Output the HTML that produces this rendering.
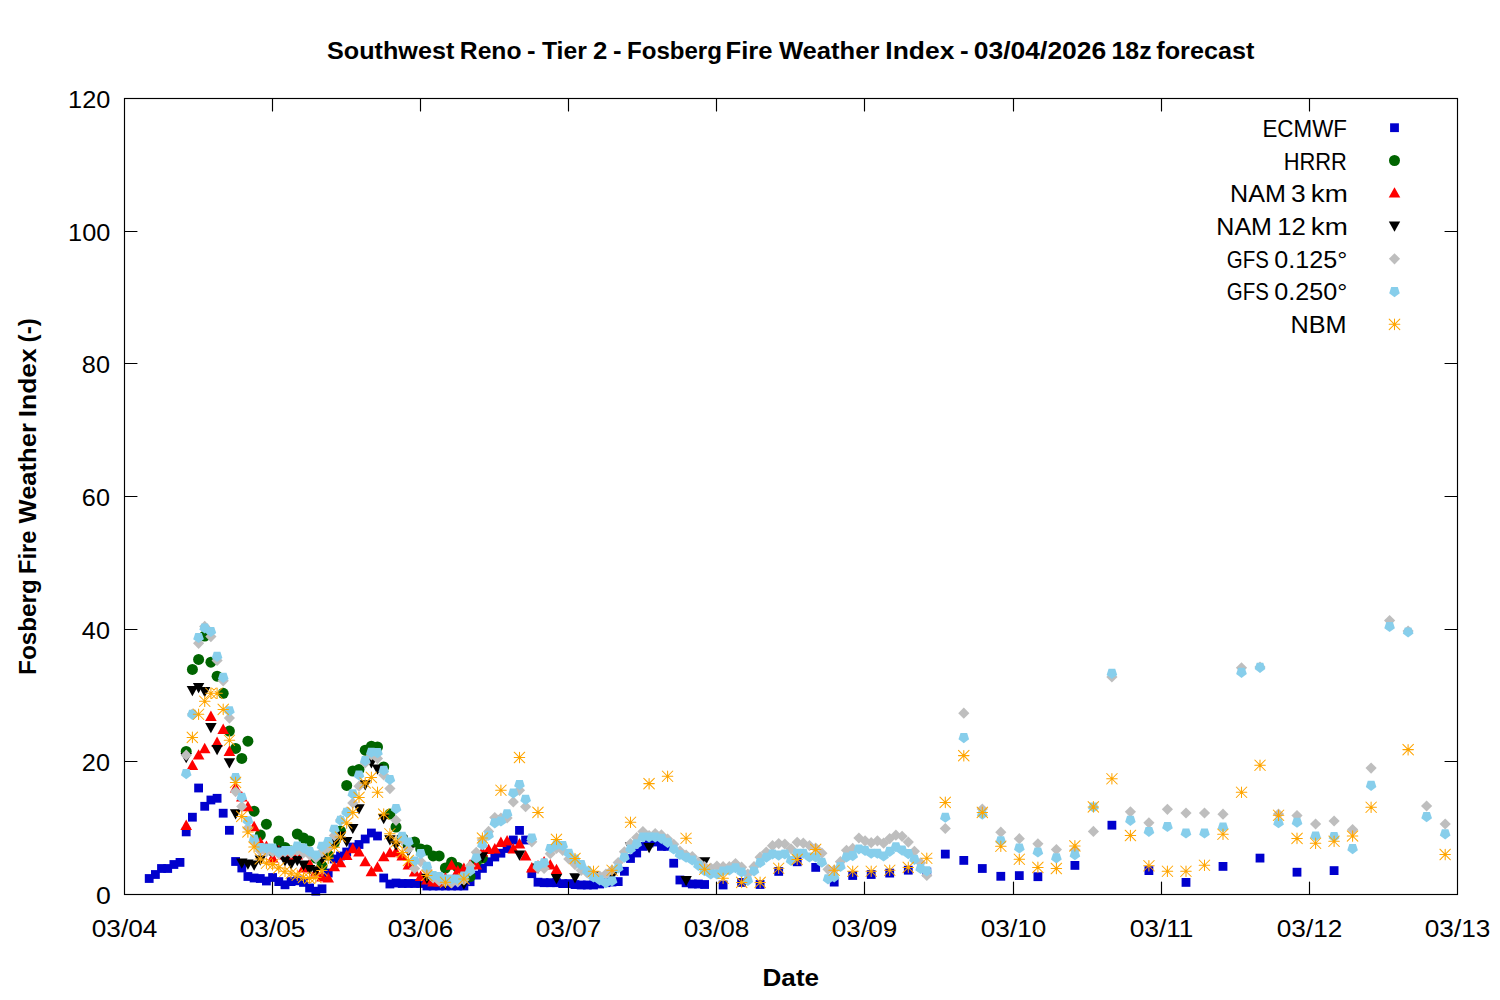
<!DOCTYPE html><html><head><meta charset="utf-8"><style>html,body{margin:0;padding:0;background:#fff;}svg{display:block;}</style></head><body>
<svg width="1500" height="1000" viewBox="0 0 1500 1000" font-family='"Liberation Sans", sans-serif'>
<rect width="1500" height="1000" fill="#fff"/>
<g fill="#0000cd"><rect x="144.8" y="874.1" width="8.8" height="8.8"/><rect x="151.0" y="870.1" width="8.8" height="8.8"/><rect x="157.1" y="864.1" width="8.8" height="8.8"/><rect x="163.3" y="864.1" width="8.8" height="8.8"/><rect x="169.5" y="860.1" width="8.8" height="8.8"/><rect x="175.6" y="858.0" width="8.8" height="8.8"/><rect x="181.8" y="827.5" width="8.8" height="8.8"/><rect x="188.0" y="812.8" width="8.8" height="8.8"/><rect x="194.2" y="783.6" width="8.8" height="8.8"/><rect x="200.3" y="801.9" width="8.8" height="8.8"/><rect x="206.5" y="795.6" width="8.8" height="8.8"/><rect x="212.7" y="793.9" width="8.8" height="8.8"/><rect x="218.8" y="808.8" width="8.8" height="8.8"/><rect x="225.0" y="825.9" width="8.8" height="8.8"/><rect x="231.2" y="857.1" width="8.8" height="8.8"/><rect x="237.4" y="863.6" width="8.8" height="8.8"/><rect x="243.5" y="872.1" width="8.8" height="8.8"/><rect x="249.7" y="873.6" width="8.8" height="8.8"/><rect x="255.9" y="874.1" width="8.8" height="8.8"/><rect x="262.0" y="876.6" width="8.8" height="8.8"/><rect x="268.2" y="873.1" width="8.8" height="8.8"/><rect x="274.4" y="877.2" width="8.8" height="8.8"/><rect x="280.6" y="880.4" width="8.8" height="8.8"/><rect x="286.7" y="877.2" width="8.8" height="8.8"/><rect x="292.9" y="876.4" width="8.8" height="8.8"/><rect x="299.1" y="878.0" width="8.8" height="8.8"/><rect x="305.2" y="883.6" width="8.8" height="8.8"/><rect x="311.4" y="886.8" width="8.8" height="8.8"/><rect x="317.6" y="884.4" width="8.8" height="8.8"/><rect x="323.8" y="868.6" width="8.8" height="8.8"/><rect x="329.9" y="854.6" width="8.8" height="8.8"/><rect x="336.1" y="851.6" width="8.8" height="8.8"/><rect x="342.3" y="847.6" width="8.8" height="8.8"/><rect x="348.4" y="842.6" width="8.8" height="8.8"/><rect x="354.6" y="840.1" width="8.8" height="8.8"/><rect x="360.8" y="834.6" width="8.8" height="8.8"/><rect x="367.0" y="828.6" width="8.8" height="8.8"/><rect x="373.1" y="831.6" width="8.8" height="8.8"/><rect x="379.3" y="873.6" width="8.8" height="8.8"/><rect x="385.5" y="879.6" width="8.8" height="8.8"/><rect x="391.6" y="878.6" width="8.8" height="8.8"/><rect x="397.8" y="879.1" width="8.8" height="8.8"/><rect x="404.0" y="879.1" width="8.8" height="8.8"/><rect x="410.2" y="879.1" width="8.8" height="8.8"/><rect x="416.3" y="879.1" width="8.8" height="8.8"/><rect x="422.5" y="881.6" width="8.8" height="8.8"/><rect x="428.7" y="881.6" width="8.8" height="8.8"/><rect x="434.8" y="881.6" width="8.8" height="8.8"/><rect x="441.0" y="881.6" width="8.8" height="8.8"/><rect x="447.2" y="881.6" width="8.8" height="8.8"/><rect x="453.4" y="881.6" width="8.8" height="8.8"/><rect x="459.5" y="881.6" width="8.8" height="8.8"/><rect x="465.7" y="877.3" width="8.8" height="8.8"/><rect x="471.9" y="870.7" width="8.8" height="8.8"/><rect x="478.0" y="864.0" width="8.8" height="8.8"/><rect x="484.2" y="857.4" width="8.8" height="8.8"/><rect x="490.4" y="852.6" width="8.8" height="8.8"/><rect x="496.5" y="848.8" width="8.8" height="8.8"/><rect x="502.7" y="844.1" width="8.8" height="8.8"/><rect x="508.9" y="835.6" width="8.8" height="8.8"/><rect x="515.1" y="826.0" width="8.8" height="8.8"/><rect x="521.2" y="835.6" width="8.8" height="8.8"/><rect x="527.4" y="869.3" width="8.8" height="8.8"/><rect x="533.6" y="877.8" width="8.8" height="8.8"/><rect x="539.7" y="878.3" width="8.8" height="8.8"/><rect x="545.9" y="878.3" width="8.8" height="8.8"/><rect x="552.1" y="878.3" width="8.8" height="8.8"/><rect x="558.3" y="879.2" width="8.8" height="8.8"/><rect x="564.4" y="879.2" width="8.8" height="8.8"/><rect x="570.6" y="880.2" width="8.8" height="8.8"/><rect x="576.8" y="880.6" width="8.8" height="8.8"/><rect x="582.9" y="880.6" width="8.8" height="8.8"/><rect x="589.1" y="880.6" width="8.8" height="8.8"/><rect x="595.3" y="879.6" width="8.8" height="8.8"/><rect x="601.5" y="878.3" width="8.8" height="8.8"/><rect x="607.6" y="877.6" width="8.8" height="8.8"/><rect x="613.8" y="877.2" width="8.8" height="8.8"/><rect x="620.0" y="866.9" width="8.8" height="8.8"/><rect x="626.1" y="854.1" width="8.8" height="8.8"/><rect x="632.3" y="848.6" width="8.8" height="8.8"/><rect x="638.5" y="842.0" width="8.8" height="8.8"/><rect x="644.7" y="838.6" width="8.8" height="8.8"/><rect x="650.8" y="837.6" width="8.8" height="8.8"/><rect x="657.0" y="842.0" width="8.8" height="8.8"/><rect x="663.2" y="842.0" width="8.8" height="8.8"/><rect x="669.3" y="858.8" width="8.8" height="8.8"/><rect x="675.5" y="875.6" width="8.8" height="8.8"/><rect x="681.7" y="878.4" width="8.8" height="8.8"/><rect x="687.9" y="879.6" width="8.8" height="8.8"/><rect x="694.0" y="879.6" width="8.8" height="8.8"/><rect x="700.2" y="880.1" width="8.8" height="8.8"/><rect x="718.7" y="880.6" width="8.8" height="8.8"/><rect x="737.2" y="878.0" width="8.8" height="8.8"/><rect x="755.7" y="880.1" width="8.8" height="8.8"/><rect x="774.3" y="867.0" width="8.8" height="8.8"/><rect x="792.8" y="857.4" width="8.8" height="8.8"/><rect x="811.3" y="863.0" width="8.8" height="8.8"/><rect x="829.8" y="877.7" width="8.8" height="8.8"/><rect x="848.3" y="871.1" width="8.8" height="8.8"/><rect x="866.8" y="870.1" width="8.8" height="8.8"/><rect x="885.3" y="868.7" width="8.8" height="8.8"/><rect x="903.9" y="865.8" width="8.8" height="8.8"/><rect x="922.4" y="867.6" width="8.8" height="8.8"/><rect x="940.9" y="849.7" width="8.8" height="8.8"/><rect x="959.4" y="856.0" width="8.8" height="8.8"/><rect x="977.9" y="864.1" width="8.8" height="8.8"/><rect x="996.4" y="871.9" width="8.8" height="8.8"/><rect x="1014.9" y="871.2" width="8.8" height="8.8"/><rect x="1033.5" y="872.3" width="8.8" height="8.8"/><rect x="1070.5" y="861.0" width="8.8" height="8.8"/><rect x="1107.5" y="820.8" width="8.8" height="8.8"/><rect x="1144.5" y="866.2" width="8.8" height="8.8"/><rect x="1181.6" y="878.0" width="8.8" height="8.8"/><rect x="1218.6" y="862.0" width="8.8" height="8.8"/><rect x="1255.6" y="853.7" width="8.8" height="8.8"/><rect x="1292.6" y="867.8" width="8.8" height="8.8"/><rect x="1329.7" y="866.2" width="8.8" height="8.8"/></g>
<g fill="#006400"><circle cx="186.2" cy="751.5" r="5.5"/><circle cx="192.4" cy="669.4" r="5.5"/><circle cx="198.6" cy="659.4" r="5.5"/><circle cx="204.7" cy="636.0" r="5.5"/><circle cx="210.9" cy="662.2" r="5.5"/><circle cx="217.1" cy="676.2" r="5.5"/><circle cx="223.2" cy="693.3" r="5.5"/><circle cx="229.4" cy="731.1" r="5.5"/><circle cx="235.6" cy="748.4" r="5.5"/><circle cx="241.8" cy="758.4" r="5.5"/><circle cx="247.9" cy="741.2" r="5.5"/><circle cx="254.1" cy="811.2" r="5.5"/><circle cx="260.3" cy="835.0" r="5.5"/><circle cx="266.4" cy="824.2" r="5.5"/><circle cx="272.6" cy="851.0" r="5.5"/><circle cx="278.8" cy="841.0" r="5.5"/><circle cx="285.0" cy="847.5" r="5.5"/><circle cx="291.1" cy="851.0" r="5.5"/><circle cx="297.3" cy="834.0" r="5.5"/><circle cx="303.5" cy="838.0" r="5.5"/><circle cx="309.6" cy="841.0" r="5.5"/><circle cx="315.8" cy="858.0" r="5.5"/><circle cx="322.0" cy="866.0" r="5.5"/><circle cx="328.2" cy="855.0" r="5.5"/><circle cx="334.3" cy="843.0" r="5.5"/><circle cx="340.5" cy="831.0" r="5.5"/><circle cx="346.7" cy="785.4" r="5.5"/><circle cx="352.8" cy="771.0" r="5.5"/><circle cx="359.0" cy="769.4" r="5.5"/><circle cx="365.2" cy="750.2" r="5.5"/><circle cx="371.4" cy="746.2" r="5.5"/><circle cx="377.5" cy="747.0" r="5.5"/><circle cx="383.7" cy="767.0" r="5.5"/><circle cx="389.9" cy="814.0" r="5.5"/><circle cx="396.0" cy="827.0" r="5.5"/><circle cx="402.2" cy="838.0" r="5.5"/><circle cx="408.4" cy="845.0" r="5.5"/><circle cx="414.6" cy="842.0" r="5.5"/><circle cx="420.7" cy="849.0" r="5.5"/><circle cx="426.9" cy="850.0" r="5.5"/><circle cx="433.1" cy="855.9" r="5.5"/><circle cx="439.2" cy="855.9" r="5.5"/><circle cx="445.4" cy="868.0" r="5.5"/><circle cx="451.6" cy="862.2" r="5.5"/><circle cx="457.8" cy="867.4" r="5.5"/><circle cx="463.9" cy="872.0" r="5.5"/><circle cx="470.1" cy="876.6" r="5.5"/><circle cx="476.3" cy="862.0" r="5.5"/><circle cx="482.4" cy="858.0" r="5.5"/></g>
<g fill="#ff0000"><path d="M186.2 819.5L192.0 829.9H180.4Z"/><path d="M192.4 759.5L198.2 769.9H186.6Z"/><path d="M198.6 749.2L204.4 759.6H192.8Z"/><path d="M204.7 742.8L210.5 753.2H198.9Z"/><path d="M210.9 710.6L216.7 721.0H205.1Z"/><path d="M217.1 736.5L222.9 746.9H211.3Z"/><path d="M223.2 723.5L229.0 733.9H217.4Z"/><path d="M229.4 745.5L235.2 755.9H223.6Z"/><path d="M235.6 782.0L241.4 792.4H229.8Z"/><path d="M241.8 791.0L247.6 801.4H236.0Z"/><path d="M247.9 800.8L253.7 811.2H242.1Z"/><path d="M254.1 820.8L259.9 831.2H248.3Z"/><path d="M260.3 836.6L266.1 847.0H254.5Z"/><path d="M266.4 840.4L272.2 850.8H260.6Z"/><path d="M272.6 852.0L278.4 862.4H266.8Z"/><path d="M278.8 844.7L284.6 855.1H273.0Z"/><path d="M285.0 849.0L290.8 859.4H279.2Z"/><path d="M291.1 851.0L296.9 861.4H285.3Z"/><path d="M297.3 849.0L303.1 859.4H291.5Z"/><path d="M303.5 862.0L309.3 872.4H297.7Z"/><path d="M309.6 858.0L315.4 868.4H303.8Z"/><path d="M315.8 866.0L321.6 876.4H310.0Z"/><path d="M322.0 871.0L327.8 881.4H316.2Z"/><path d="M328.2 872.0L334.0 882.4H322.4Z"/><path d="M334.3 860.8L340.1 871.2H328.5Z"/><path d="M340.5 856.8L346.3 867.2H334.7Z"/><path d="M346.7 849.6L352.5 860.0H340.9Z"/><path d="M352.8 842.8L358.6 853.2H347.0Z"/><path d="M359.0 846.0L364.8 856.4H353.2Z"/><path d="M365.2 855.9L371.0 866.3H359.4Z"/><path d="M371.4 865.8L377.2 876.2H365.6Z"/><path d="M377.5 861.3L383.3 871.7H371.7Z"/><path d="M383.7 850.9L389.5 861.3H377.9Z"/><path d="M389.9 846.9L395.7 857.3H384.1Z"/><path d="M396.0 846.0L401.8 856.4H390.2Z"/><path d="M402.2 850.0L408.0 860.4H396.4Z"/><path d="M408.4 859.0L414.2 869.4H402.6Z"/><path d="M414.6 866.0L420.4 876.4H408.8Z"/><path d="M420.7 870.6L426.5 881.0H414.9Z"/><path d="M426.9 874.0L432.7 884.4H421.1Z"/><path d="M433.1 876.0L438.9 886.4H427.3Z"/><path d="M439.2 876.0L445.0 886.4H433.4Z"/><path d="M445.4 872.0L451.2 882.4H439.6Z"/><path d="M451.6 859.3L457.4 869.7H445.8Z"/><path d="M457.8 865.0L463.6 875.4H451.9Z"/><path d="M463.9 862.5L469.7 872.9H458.1Z"/><path d="M470.1 859.0L475.9 869.4H464.3Z"/><path d="M476.3 859.0L482.1 869.4H470.5Z"/><path d="M482.4 846.0L488.2 856.4H476.6Z"/><path d="M488.6 843.7L494.4 854.1H482.8Z"/><path d="M494.8 843.0L500.6 853.4H489.0Z"/><path d="M500.9 836.6L506.7 847.0H495.1Z"/><path d="M507.1 835.0L512.9 845.4H501.3Z"/><path d="M513.3 843.0L519.1 853.4H507.5Z"/><path d="M519.5 838.0L525.3 848.4H513.7Z"/><path d="M525.6 850.0L531.4 860.4H519.8Z"/><path d="M531.8 862.0L537.6 872.4H526.0Z"/><path d="M538.0 860.0L543.8 870.4H532.2Z"/><path d="M544.1 856.0L549.9 866.4H538.3Z"/><path d="M550.3 859.0L556.1 869.4H544.5Z"/><path d="M556.5 863.7L562.3 874.1H550.7Z"/></g>
<g fill="#000000"><path d="M186.2 763.2L191.9 753.0H180.5Z"/><path d="M192.4 696.2L198.1 686.0H186.7Z"/><path d="M198.6 693.2L204.3 683.0H192.9Z"/><path d="M204.7 697.2L210.4 687.0H199.0Z"/><path d="M210.9 733.2L216.6 723.0H205.2Z"/><path d="M217.1 755.2L222.8 745.0H211.4Z"/><path d="M229.4 768.4L235.1 758.2H223.7Z"/><path d="M235.6 819.4L241.3 809.2H229.9Z"/><path d="M241.8 868.7L247.5 858.5H236.1Z"/><path d="M247.9 869.7L253.6 859.5H242.2Z"/><path d="M254.1 870.8L259.8 860.6H248.4Z"/><path d="M260.3 865.7L266.0 855.5H254.6Z"/><path d="M266.4 855.7L272.1 845.5H260.7Z"/><path d="M272.6 855.7L278.3 845.5H266.9Z"/><path d="M278.8 856.7L284.5 846.5H273.1Z"/><path d="M285.0 866.5L290.7 856.3H279.3Z"/><path d="M291.1 869.7L296.8 859.5H285.4Z"/><path d="M297.3 866.2L303.0 856.0H291.6Z"/><path d="M303.5 870.7L309.2 860.5H297.8Z"/><path d="M309.6 875.2L315.3 865.0H303.9Z"/><path d="M315.8 876.7L321.5 866.5H310.1Z"/><path d="M322.0 864.7L327.7 854.5H316.3Z"/><path d="M328.2 853.7L333.9 843.5H322.5Z"/><path d="M334.3 848.7L340.0 838.5H328.6Z"/><path d="M340.5 841.7L346.2 831.5H334.8Z"/><path d="M346.7 847.2L352.4 837.0H341.0Z"/><path d="M352.8 834.1L358.5 823.9H347.1Z"/><path d="M359.0 814.4L364.7 804.2H353.3Z"/><path d="M365.2 790.4L370.9 780.2H359.5Z"/><path d="M371.4 768.4L377.1 758.2H365.7Z"/><path d="M377.5 774.7L383.2 764.5H371.8Z"/><path d="M383.7 824.2L389.4 814.0H378.0Z"/><path d="M389.9 845.4L395.6 835.2H384.2Z"/><path d="M396.0 850.7L401.7 840.5H390.3Z"/><path d="M402.2 845.7L407.9 835.5H396.5Z"/><path d="M408.4 856.7L414.1 846.5H402.7Z"/><path d="M426.9 884.0L432.6 873.8H421.2Z"/><path d="M445.4 889.2L451.1 879.0H439.7Z"/><path d="M463.9 889.7L469.6 879.5H458.2Z"/><path d="M482.4 862.5L488.1 852.3H476.7Z"/><path d="M500.9 825.7L506.6 815.5H495.2Z"/><path d="M519.5 860.7L525.2 850.5H513.8Z"/><path d="M538.0 873.7L543.7 863.5H532.3Z"/><path d="M556.5 884.3L562.2 874.1H550.8Z"/><path d="M575.0 883.4L580.7 873.2H569.3Z"/><path d="M593.5 881.7L599.2 871.5H587.8Z"/><path d="M612.0 881.7L617.7 871.5H606.3Z"/><path d="M630.5 852.7L636.2 842.5H624.8Z"/><path d="M649.1 853.2L654.8 843.0H643.4Z"/><path d="M686.1 886.2L691.8 876.0H680.4Z"/><path d="M704.6 867.4L710.3 857.2H698.9Z"/></g>
<g fill="#bebebe"><path d="M186.2 749.6L191.8 755.2L186.2 760.8L180.6 755.2Z"/><path d="M192.4 708.4L198.0 714.0L192.4 719.6L186.8 714.0Z"/><path d="M198.6 637.7L204.2 643.3L198.6 648.9L193.0 643.3Z"/><path d="M204.7 620.8L210.3 626.4L204.7 632.0L199.1 626.4Z"/><path d="M210.9 631.0L216.5 636.6L210.9 642.2L205.3 636.6Z"/><path d="M217.1 654.9L222.7 660.5L217.1 666.1L211.5 660.5Z"/><path d="M223.2 675.2L228.8 680.8L223.2 686.4L217.6 680.8Z"/><path d="M229.4 712.5L235.0 718.1L229.4 723.7L223.8 718.1Z"/><path d="M235.6 786.0L241.2 791.6L235.6 797.2L230.0 791.6Z"/><path d="M241.8 800.8L247.4 806.4L241.8 812.0L236.2 806.4Z"/><path d="M247.9 822.4L253.5 828.0L247.9 833.6L242.3 828.0Z"/><path d="M254.1 835.9L259.7 841.5L254.1 847.1L248.5 841.5Z"/><path d="M260.3 845.4L265.9 851.0L260.3 856.6L254.7 851.0Z"/><path d="M266.4 846.4L272.0 852.0L266.4 857.6L260.8 852.0Z"/><path d="M272.6 846.4L278.2 852.0L272.6 857.6L267.0 852.0Z"/><path d="M278.8 848.4L284.4 854.0L278.8 859.6L273.2 854.0Z"/><path d="M285.0 846.4L290.6 852.0L285.0 857.6L279.4 852.0Z"/><path d="M291.1 847.4L296.7 853.0L291.1 858.6L285.5 853.0Z"/><path d="M297.3 845.4L302.9 851.0L297.3 856.6L291.7 851.0Z"/><path d="M303.5 847.4L309.1 853.0L303.5 858.6L297.9 853.0Z"/><path d="M309.6 849.4L315.2 855.0L309.6 860.6L304.0 855.0Z"/><path d="M315.8 852.4L321.4 858.0L315.8 863.6L310.2 858.0Z"/><path d="M322.0 846.4L327.6 852.0L322.0 857.6L316.4 852.0Z"/><path d="M328.2 842.4L333.8 848.0L328.2 853.6L322.6 848.0Z"/><path d="M334.3 830.0L339.9 835.6L334.3 841.2L328.7 835.6Z"/><path d="M340.5 814.4L346.1 820.0L340.5 825.6L334.9 820.0Z"/><path d="M346.7 806.4L352.3 812.0L346.7 817.6L341.1 812.0Z"/><path d="M352.8 797.4L358.4 803.0L352.8 808.6L347.2 803.0Z"/><path d="M359.0 780.6L364.6 786.2L359.0 791.8L353.4 786.2Z"/><path d="M365.2 757.4L370.8 763.0L365.2 768.6L359.6 763.0Z"/><path d="M371.4 749.4L377.0 755.0L371.4 760.6L365.8 755.0Z"/><path d="M377.5 753.0L383.1 758.6L377.5 764.2L371.9 758.6Z"/><path d="M383.7 769.4L389.3 775.0L383.7 780.6L378.1 775.0Z"/><path d="M389.9 783.0L395.5 788.6L389.9 794.2L384.3 788.6Z"/><path d="M396.0 814.7L401.6 820.3L396.0 825.9L390.4 820.3Z"/><path d="M402.2 834.4L407.8 840.0L402.2 845.6L396.6 840.0Z"/><path d="M408.4 843.4L414.0 849.0L408.4 854.6L402.8 849.0Z"/><path d="M414.6 862.9L420.2 868.5L414.6 874.1L409.0 868.5Z"/><path d="M420.7 856.0L426.3 861.6L420.7 867.2L415.1 861.6Z"/><path d="M426.9 864.4L432.5 870.0L426.9 875.6L421.3 870.0Z"/><path d="M433.1 872.4L438.7 878.0L433.1 883.6L427.5 878.0Z"/><path d="M439.2 875.4L444.8 881.0L439.2 886.6L433.6 881.0Z"/><path d="M445.4 876.4L451.0 882.0L445.4 887.6L439.8 882.0Z"/><path d="M451.6 877.4L457.2 883.0L451.6 888.6L446.0 883.0Z"/><path d="M457.8 876.4L463.4 882.0L457.8 887.6L452.1 882.0Z"/><path d="M463.9 874.4L469.5 880.0L463.9 885.6L458.3 880.0Z"/><path d="M470.1 860.4L475.7 866.0L470.1 871.6L464.5 866.0Z"/><path d="M476.3 846.7L481.9 852.3L476.3 857.9L470.7 852.3Z"/><path d="M482.4 834.4L488.0 840.0L482.4 845.6L476.8 840.0Z"/><path d="M488.6 825.8L494.2 831.4L488.6 837.0L483.0 831.4Z"/><path d="M494.8 812.0L500.4 817.6L494.8 823.2L489.2 817.6Z"/><path d="M500.9 812.4L506.5 818.0L500.9 823.6L495.3 818.0Z"/><path d="M507.1 812.4L512.7 818.0L507.1 823.6L501.5 818.0Z"/><path d="M513.3 796.3L518.9 801.9L513.3 807.5L507.7 801.9Z"/><path d="M519.5 784.7L525.1 790.3L519.5 795.9L513.9 790.3Z"/><path d="M525.6 801.1L531.2 806.7L525.6 812.3L520.0 806.7Z"/><path d="M531.8 836.2L537.4 841.8L531.8 847.4L526.2 841.8Z"/><path d="M538.0 862.4L543.6 868.0L538.0 873.6L532.4 868.0Z"/><path d="M544.1 862.8L549.7 868.4L544.1 874.0L538.5 868.4Z"/><path d="M550.3 848.1L555.9 853.7L550.3 859.3L544.7 853.7Z"/><path d="M556.5 842.9L562.1 848.5L556.5 854.1L550.9 848.5Z"/><path d="M562.7 844.8L568.3 850.4L562.7 856.0L557.1 850.4Z"/><path d="M568.8 853.4L574.4 859.0L568.8 864.6L563.2 859.0Z"/><path d="M575.0 859.0L580.6 864.6L575.0 870.2L569.4 864.6Z"/><path d="M581.2 864.7L586.8 870.3L581.2 875.9L575.6 870.3Z"/><path d="M587.3 867.4L592.9 873.0L587.3 878.6L581.7 873.0Z"/><path d="M593.5 869.4L599.1 875.0L593.5 880.6L587.9 875.0Z"/><path d="M599.7 870.4L605.3 876.0L599.7 881.6L594.1 876.0Z"/><path d="M605.9 868.4L611.5 874.0L605.9 879.6L600.3 874.0Z"/><path d="M612.0 864.4L617.6 870.0L612.0 875.6L606.4 870.0Z"/><path d="M618.2 857.0L623.8 862.6L618.2 868.2L612.6 862.6Z"/><path d="M624.4 846.2L630.0 851.8L624.4 857.4L618.8 851.8Z"/><path d="M630.5 838.1L636.1 843.7L630.5 849.3L624.9 843.7Z"/><path d="M636.7 832.0L642.3 837.6L636.7 843.2L631.1 837.6Z"/><path d="M642.9 825.9L648.5 831.5L642.9 837.1L637.3 831.5Z"/><path d="M649.1 829.9L654.7 835.5L649.1 841.1L643.5 835.5Z"/><path d="M655.2 827.9L660.8 833.5L655.2 839.1L649.6 833.5Z"/><path d="M661.4 829.3L667.0 834.9L661.4 840.5L655.8 834.9Z"/><path d="M667.6 833.4L673.2 839.0L667.6 844.6L662.0 839.0Z"/><path d="M673.7 838.7L679.3 844.3L673.7 849.9L668.1 844.3Z"/><path d="M679.9 845.4L685.5 851.0L679.9 856.6L674.3 851.0Z"/><path d="M686.1 849.4L691.7 855.0L686.1 860.6L680.5 855.0Z"/><path d="M692.3 850.9L697.9 856.5L692.3 862.1L686.7 856.5Z"/><path d="M698.4 856.4L704.0 862.0L698.4 867.6L692.8 862.0Z"/><path d="M704.6 860.9L710.2 866.5L704.6 872.1L699.0 866.5Z"/><path d="M710.8 862.4L716.4 868.0L710.8 873.6L705.2 868.0Z"/><path d="M716.9 860.4L722.5 866.0L716.9 871.6L711.3 866.0Z"/><path d="M723.1 861.1L728.7 866.7L723.1 872.3L717.5 866.7Z"/><path d="M729.3 861.1L734.9 866.7L729.3 872.3L723.7 866.7Z"/><path d="M735.5 857.9L741.1 863.5L735.5 869.1L729.9 863.5Z"/><path d="M741.6 861.6L747.2 867.2L741.6 872.8L736.0 867.2Z"/><path d="M747.8 868.4L753.4 874.0L747.8 879.6L742.2 874.0Z"/><path d="M754.0 861.1L759.6 866.7L754.0 872.3L748.4 866.7Z"/><path d="M760.1 851.6L765.7 857.2L760.1 862.8L754.5 857.2Z"/><path d="M766.3 846.4L771.9 852.0L766.3 857.6L760.7 852.0Z"/><path d="M772.5 840.1L778.1 845.7L772.5 851.3L766.9 845.7Z"/><path d="M778.7 838.0L784.3 843.6L778.7 849.2L773.1 843.6Z"/><path d="M784.8 838.4L790.4 844.0L784.8 849.6L779.2 844.0Z"/><path d="M791.0 843.2L796.6 848.8L791.0 854.4L785.4 848.8Z"/><path d="M797.2 836.7L802.8 842.3L797.2 847.9L791.6 842.3Z"/><path d="M803.3 837.6L808.9 843.2L803.3 848.8L797.7 843.2Z"/><path d="M809.5 840.0L815.1 845.6L809.5 851.2L803.9 845.6Z"/><path d="M815.7 842.4L821.3 848.0L815.7 853.6L810.1 848.0Z"/><path d="M821.9 847.6L827.5 853.2L821.9 858.8L816.3 853.2Z"/><path d="M828.0 863.7L833.6 869.3L828.0 874.9L822.4 869.3Z"/><path d="M834.2 864.4L839.8 870.0L834.2 875.6L828.6 870.0Z"/><path d="M840.4 856.1L846.0 861.7L840.4 867.3L834.8 861.7Z"/><path d="M846.5 844.7L852.1 850.3L846.5 855.9L840.9 850.3Z"/><path d="M852.7 842.8L858.3 848.4L852.7 854.0L847.1 848.4Z"/><path d="M858.9 832.4L864.5 838.0L858.9 843.6L853.3 838.0Z"/><path d="M865.1 835.2L870.7 840.8L865.1 846.4L859.5 840.8Z"/><path d="M871.2 837.1L876.8 842.7L871.2 848.3L865.6 842.7Z"/><path d="M877.4 835.2L883.0 840.8L877.4 846.4L871.8 840.8Z"/><path d="M883.6 837.6L889.2 843.2L883.6 848.8L878.0 843.2Z"/><path d="M889.7 833.0L895.3 838.6L889.7 844.2L884.1 838.6Z"/><path d="M895.9 829.6L901.5 835.2L895.9 840.8L890.3 835.2Z"/><path d="M902.1 830.7L907.7 836.3L902.1 841.9L896.5 836.3Z"/><path d="M908.3 836.5L913.9 842.1L908.3 847.7L902.7 842.1Z"/><path d="M914.4 845.7L920.0 851.3L914.4 856.9L908.8 851.3Z"/><path d="M920.6 857.2L926.2 862.8L920.6 868.4L915.0 862.8Z"/><path d="M926.8 869.8L932.4 875.4L926.8 881.0L921.2 875.4Z"/><path d="M945.3 822.9L950.9 828.5L945.3 834.1L939.7 828.5Z"/><path d="M963.8 707.6L969.4 713.2L963.8 718.8L958.2 713.2Z"/><path d="M982.3 803.4L987.9 809.0L982.3 814.6L976.7 809.0Z"/><path d="M1000.8 826.6L1006.4 832.2L1000.8 837.8L995.2 832.2Z"/><path d="M1019.3 833.1L1024.9 838.7L1019.3 844.3L1013.7 838.7Z"/><path d="M1037.9 838.2L1043.5 843.8L1037.9 849.4L1032.3 843.8Z"/><path d="M1056.4 844.0L1062.0 849.6L1056.4 855.2L1050.8 849.6Z"/><path d="M1074.9 844.4L1080.5 850.0L1074.9 855.6L1069.3 850.0Z"/><path d="M1093.4 825.8L1099.0 831.4L1093.4 837.0L1087.8 831.4Z"/><path d="M1111.9 671.4L1117.5 677.0L1111.9 682.6L1106.3 677.0Z"/><path d="M1130.4 806.2L1136.0 811.8L1130.4 817.4L1124.8 811.8Z"/><path d="M1148.9 817.2L1154.5 822.8L1148.9 828.4L1143.3 822.8Z"/><path d="M1167.4 803.7L1173.0 809.3L1167.4 814.9L1161.8 809.3Z"/><path d="M1186.0 807.4L1191.6 813.0L1186.0 818.6L1180.4 813.0Z"/><path d="M1204.5 807.4L1210.1 813.0L1204.5 818.6L1198.9 813.0Z"/><path d="M1223.0 808.6L1228.6 814.2L1223.0 819.8L1217.4 814.2Z"/><path d="M1241.5 662.2L1247.1 667.8L1241.5 673.4L1235.9 667.8Z"/><path d="M1260.0 661.4L1265.6 667.0L1260.0 672.6L1254.4 667.0Z"/><path d="M1278.5 808.4L1284.1 814.0L1278.5 819.6L1272.9 814.0Z"/><path d="M1297.0 810.0L1302.6 815.6L1297.0 821.2L1291.4 815.6Z"/><path d="M1315.6 818.4L1321.2 824.0L1315.6 829.6L1310.0 824.0Z"/><path d="M1334.1 815.4L1339.7 821.0L1334.1 826.6L1328.5 821.0Z"/><path d="M1352.6 824.0L1358.2 829.6L1352.6 835.2L1347.0 829.6Z"/><path d="M1371.1 762.5L1376.7 768.1L1371.1 773.7L1365.5 768.1Z"/><path d="M1389.6 615.0L1395.2 620.6L1389.6 626.2L1384.0 620.6Z"/><path d="M1408.1 625.4L1413.7 631.0L1408.1 636.6L1402.5 631.0Z"/><path d="M1426.6 800.4L1432.2 806.0L1426.6 811.6L1421.0 806.0Z"/><path d="M1445.2 818.4L1450.8 824.0L1445.2 829.6L1439.6 824.0Z"/></g>
<g fill="#87ceeb"><path d="M186.2 779.2L180.9 775.3L182.9 769.1L189.5 769.1L191.5 775.3Z"/><path d="M192.4 719.9L187.1 716.0L189.1 709.8L195.7 709.8L197.7 716.0Z"/><path d="M198.6 643.1L193.2 639.2L195.3 633.0L201.8 633.0L203.9 639.2Z"/><path d="M204.7 633.6L199.4 629.7L201.4 623.5L208.0 623.5L210.1 629.7Z"/><path d="M210.9 637.0L205.6 633.1L207.6 626.9L214.2 626.9L216.2 633.1Z"/><path d="M217.1 661.9L211.7 658.0L213.8 651.8L220.4 651.8L222.4 658.0Z"/><path d="M223.2 682.9L217.9 679.0L219.9 672.8L226.5 672.8L228.6 679.0Z"/><path d="M229.4 716.4L224.1 712.5L226.1 706.3L232.7 706.3L234.7 712.5Z"/><path d="M235.6 783.1L230.3 779.2L232.3 773.0L238.9 773.0L240.9 779.2Z"/><path d="M241.8 802.9L236.4 799.0L238.5 792.8L245.0 792.8L247.1 799.0Z"/><path d="M247.9 826.4L242.6 822.5L244.6 816.3L251.2 816.3L253.3 822.5Z"/><path d="M254.1 844.6L248.8 840.7L250.8 834.5L257.4 834.5L259.4 840.7Z"/><path d="M260.3 853.1L254.9 849.2L257.0 843.0L263.6 843.0L265.6 849.2Z"/><path d="M266.4 853.6L261.1 849.7L263.1 843.5L269.7 843.5L271.8 849.7Z"/><path d="M272.6 853.6L267.3 849.7L269.3 843.5L275.9 843.5L277.9 849.7Z"/><path d="M278.8 857.6L273.5 853.7L275.5 847.5L282.1 847.5L284.1 853.7Z"/><path d="M285.0 856.1L279.6 852.2L281.7 846.0L288.2 846.0L290.3 852.2Z"/><path d="M291.1 856.1L285.8 852.2L287.8 846.0L294.4 846.0L296.5 852.2Z"/><path d="M297.3 851.6L292.0 847.7L294.0 841.5L300.6 841.5L302.6 847.7Z"/><path d="M303.5 853.6L298.1 849.7L300.2 843.5L306.8 843.5L308.8 849.7Z"/><path d="M309.6 857.1L304.3 853.2L306.3 847.0L312.9 847.0L315.0 853.2Z"/><path d="M315.8 860.6L310.5 856.7L312.5 850.5L319.1 850.5L321.1 856.7Z"/><path d="M322.0 851.9L316.7 848.0L318.7 841.8L325.3 841.8L327.3 848.0Z"/><path d="M328.2 847.2L322.8 843.3L324.9 837.1L331.4 837.1L333.5 843.3Z"/><path d="M334.3 834.9L329.0 831.0L331.0 824.8L337.6 824.8L339.6 831.0Z"/><path d="M340.5 825.9L335.2 822.0L337.2 815.8L343.8 815.8L345.8 822.0Z"/><path d="M346.7 817.8L341.3 813.9L343.4 807.7L350.0 807.7L352.0 813.9Z"/><path d="M352.8 799.4L347.5 795.5L349.5 789.3L356.1 789.3L358.2 795.5Z"/><path d="M359.0 780.6L353.7 776.7L355.7 770.5L362.3 770.5L364.3 776.7Z"/><path d="M365.2 766.2L359.9 762.3L361.9 756.1L368.5 756.1L370.5 762.3Z"/><path d="M371.4 757.8L366.0 753.9L368.1 747.7L374.6 747.7L376.7 753.9Z"/><path d="M377.5 758.2L372.2 754.3L374.2 748.1L380.8 748.1L382.8 754.3Z"/><path d="M383.7 775.8L378.4 771.9L380.4 765.7L387.0 765.7L389.0 771.9Z"/><path d="M389.9 785.0L384.5 781.1L386.6 774.9L393.2 774.9L395.2 781.1Z"/><path d="M396.0 814.2L390.7 810.3L392.7 804.1L399.3 804.1L401.4 810.3Z"/><path d="M402.2 841.9L396.9 838.0L398.9 831.8L405.5 831.8L407.5 838.0Z"/><path d="M408.4 847.6L403.1 843.7L405.1 837.5L411.7 837.5L413.7 843.7Z"/><path d="M414.6 866.6L409.2 862.7L411.3 856.5L417.8 856.5L419.9 862.7Z"/><path d="M420.7 859.2L415.4 855.3L417.4 849.1L424.0 849.1L426.0 855.3Z"/><path d="M426.9 871.8L421.6 867.9L423.6 861.7L430.2 861.7L432.2 867.9Z"/><path d="M433.1 881.0L427.7 877.1L429.8 870.9L436.4 870.9L438.4 877.1Z"/><path d="M439.2 882.2L433.9 878.3L435.9 872.1L442.5 872.1L444.6 878.3Z"/><path d="M445.4 884.6L440.1 880.7L442.1 874.5L448.7 874.5L450.7 880.7Z"/><path d="M451.6 884.6L446.3 880.7L448.3 874.5L454.9 874.5L456.9 880.7Z"/><path d="M457.8 884.6L452.4 880.7L454.5 874.5L461.0 874.5L463.1 880.7Z"/><path d="M463.9 881.6L458.6 877.7L460.6 871.5L467.2 871.5L469.2 877.7Z"/><path d="M470.1 876.4L464.8 872.5L466.8 866.3L473.4 866.3L475.4 872.5Z"/><path d="M476.3 863.6L470.9 859.7L473.0 853.5L479.6 853.5L481.6 859.7Z"/><path d="M482.4 850.3L477.1 846.4L479.1 840.2L485.7 840.2L487.8 846.4Z"/><path d="M488.6 840.8L483.3 836.9L485.3 830.7L491.9 830.7L493.9 836.9Z"/><path d="M494.8 828.4L489.5 824.5L491.5 818.3L498.1 818.3L500.1 824.5Z"/><path d="M500.9 826.6L495.6 822.7L497.7 816.5L504.2 816.5L506.3 822.7Z"/><path d="M507.1 819.3L501.8 815.4L503.8 809.2L510.4 809.2L512.4 815.4Z"/><path d="M513.3 798.6L508.0 794.7L510.0 788.5L516.6 788.5L518.6 794.7Z"/><path d="M519.5 790.1L514.1 786.2L516.2 780.0L522.8 780.0L524.8 786.2Z"/><path d="M525.6 804.9L520.3 801.0L522.3 794.8L528.9 794.8L531.0 801.0Z"/><path d="M531.8 843.6L526.5 839.7L528.5 833.5L535.1 833.5L537.1 839.7Z"/><path d="M538.0 871.2L532.7 867.3L534.7 861.1L541.3 861.1L543.3 867.3Z"/><path d="M544.1 868.3L538.8 864.4L540.9 858.2L547.4 858.2L549.5 864.4Z"/><path d="M550.3 854.1L545.0 850.2L547.0 844.0L553.6 844.0L555.6 850.2Z"/><path d="M556.5 850.3L551.2 846.4L553.2 840.2L559.8 840.2L561.8 846.4Z"/><path d="M562.7 851.2L557.3 847.3L559.4 841.1L566.0 841.1L568.0 847.3Z"/><path d="M568.8 858.8L563.5 854.9L565.5 848.7L572.1 848.7L574.2 854.9Z"/><path d="M575.0 864.6L569.7 860.7L571.7 854.5L578.3 854.5L580.3 860.7Z"/><path d="M581.2 870.2L575.9 866.3L577.9 860.1L584.5 860.1L586.5 866.3Z"/><path d="M587.3 876.4L582.0 872.5L584.1 866.3L590.6 866.3L592.7 872.5Z"/><path d="M593.5 882.6L588.2 878.7L590.2 872.5L596.8 872.5L598.8 878.7Z"/><path d="M599.7 885.4L594.4 881.5L596.4 875.3L603.0 875.3L605.0 881.5Z"/><path d="M605.9 888.3L600.5 884.4L602.6 878.2L609.2 878.2L611.2 884.4Z"/><path d="M612.0 886.4L606.7 882.5L608.7 876.3L615.3 876.3L617.4 882.5Z"/><path d="M618.2 873.6L612.9 869.7L614.9 863.5L621.5 863.5L623.5 869.7Z"/><path d="M624.4 862.8L619.0 858.9L621.1 852.7L627.7 852.7L629.7 858.9Z"/><path d="M630.5 854.6L625.2 850.7L627.3 844.5L633.8 844.5L635.9 850.7Z"/><path d="M636.7 849.3L631.4 845.4L633.4 839.2L640.0 839.2L642.0 845.4Z"/><path d="M642.9 842.6L637.6 838.7L639.6 832.5L646.2 832.5L648.2 838.7Z"/><path d="M649.1 842.6L643.7 838.7L645.8 832.5L652.4 832.5L654.4 838.7Z"/><path d="M655.2 842.6L649.9 838.7L651.9 832.5L658.5 832.5L660.6 838.7Z"/><path d="M661.4 843.9L656.1 840.0L658.1 833.8L664.7 833.8L666.7 840.0Z"/><path d="M667.6 847.9L662.2 844.0L664.3 837.8L670.9 837.8L672.9 844.0Z"/><path d="M673.7 854.6L668.4 850.7L670.5 844.5L677.0 844.5L679.1 850.7Z"/><path d="M679.9 860.1L674.6 856.2L676.6 850.0L683.2 850.0L685.2 856.2Z"/><path d="M686.1 862.8L680.8 858.9L682.8 852.7L689.4 852.7L691.4 858.9Z"/><path d="M692.3 865.6L686.9 861.7L689.0 855.5L695.6 855.5L697.6 861.7Z"/><path d="M698.4 870.9L693.1 867.0L695.1 860.8L701.7 860.8L703.8 867.0Z"/><path d="M704.6 876.3L699.3 872.4L701.3 866.2L707.9 866.2L709.9 872.4Z"/><path d="M710.8 879.6L705.4 875.7L707.5 869.5L714.1 869.5L716.1 875.7Z"/><path d="M716.9 879.6L711.6 875.7L713.7 869.5L720.2 869.5L722.3 875.7Z"/><path d="M723.1 876.6L717.8 872.7L719.8 866.5L726.4 866.5L728.4 872.7Z"/><path d="M729.3 875.6L724.0 871.7L726.0 865.5L732.6 865.5L734.6 871.7Z"/><path d="M735.5 873.3L730.1 869.4L732.2 863.2L738.7 863.2L740.8 869.4Z"/><path d="M741.6 877.6L736.3 873.7L738.3 867.5L744.9 867.5L747.0 873.7Z"/><path d="M747.8 885.9L742.5 882.0L744.5 875.8L751.1 875.8L753.1 882.0Z"/><path d="M754.0 876.5L748.6 872.6L750.7 866.4L757.3 866.4L759.3 872.6Z"/><path d="M760.1 868.1L754.8 864.2L756.9 858.0L763.4 858.0L765.5 864.2Z"/><path d="M766.3 862.8L761.0 858.9L763.0 852.7L769.6 852.7L771.6 858.9Z"/><path d="M772.5 859.6L767.2 855.7L769.2 849.5L775.8 849.5L777.8 855.7Z"/><path d="M778.7 860.7L773.3 856.8L775.4 850.6L781.9 850.6L784.0 856.8Z"/><path d="M784.8 859.6L779.5 855.7L781.5 849.5L788.1 849.5L790.2 855.7Z"/><path d="M791.0 866.0L785.7 862.1L787.7 855.9L794.3 855.9L796.3 862.1Z"/><path d="M797.2 858.8L791.8 854.9L793.9 848.7L800.5 848.7L802.5 854.9Z"/><path d="M803.3 858.8L798.0 854.9L800.1 848.7L806.6 848.7L808.7 854.9Z"/><path d="M809.5 862.6L804.2 858.7L806.2 852.5L812.8 852.5L814.8 858.7Z"/><path d="M815.7 862.6L810.4 858.7L812.4 852.5L819.0 852.5L821.0 858.7Z"/><path d="M821.9 867.8L816.5 863.9L818.6 857.7L825.1 857.7L827.2 863.9Z"/><path d="M828.0 884.4L822.7 880.5L824.7 874.3L831.3 874.3L833.4 880.5Z"/><path d="M834.2 882.5L828.9 878.6L830.9 872.4L837.5 872.4L839.5 878.6Z"/><path d="M840.4 872.1L835.0 868.2L837.1 862.0L843.7 862.0L845.7 868.2Z"/><path d="M846.5 862.6L841.2 858.7L843.3 852.5L849.8 852.5L851.9 858.7Z"/><path d="M852.7 861.2L847.4 857.3L849.4 851.1L856.0 851.1L858.0 857.3Z"/><path d="M858.9 854.5L853.6 850.6L855.6 844.4L862.2 844.4L864.2 850.6Z"/><path d="M865.1 855.9L859.7 852.0L861.8 845.8L868.3 845.8L870.4 852.0Z"/><path d="M871.2 858.8L865.9 854.9L867.9 848.7L874.5 848.7L876.6 854.9Z"/><path d="M877.4 858.8L872.1 854.9L874.1 848.7L880.7 848.7L882.7 854.9Z"/><path d="M883.6 861.6L878.2 857.7L880.3 851.5L886.9 851.5L888.9 857.7Z"/><path d="M889.7 856.9L884.4 853.0L886.4 846.8L893.0 846.8L895.1 853.0Z"/><path d="M895.9 852.3L890.6 848.4L892.6 842.2L899.2 842.2L901.2 848.4Z"/><path d="M902.1 855.7L896.8 851.8L898.8 845.6L905.4 845.6L907.4 851.8Z"/><path d="M908.3 859.2L902.9 855.3L905.0 849.1L911.5 849.1L913.6 855.3Z"/><path d="M914.4 864.9L909.1 861.0L911.1 854.8L917.7 854.8L919.8 861.0Z"/><path d="M920.6 874.1L915.3 870.2L917.3 864.0L923.9 864.0L925.9 870.2Z"/><path d="M926.8 876.4L921.4 872.5L923.5 866.3L930.1 866.3L932.1 872.5Z"/><path d="M945.3 822.8L940.0 818.9L942.0 812.7L948.6 812.7L950.6 818.9Z"/><path d="M963.8 743.2L958.5 739.3L960.5 733.1L967.1 733.1L969.1 739.3Z"/><path d="M982.3 819.7L977.0 815.8L979.0 809.6L985.6 809.6L987.6 815.8Z"/><path d="M1000.8 846.4L995.5 842.5L997.5 836.3L1004.1 836.3L1006.1 842.5Z"/><path d="M1019.3 853.6L1014.0 849.7L1016.0 843.5L1022.6 843.5L1024.7 849.7Z"/><path d="M1037.9 857.6L1032.5 853.7L1034.6 847.5L1041.1 847.5L1043.2 853.7Z"/><path d="M1056.4 863.4L1051.0 859.5L1053.1 853.3L1059.7 853.3L1061.7 859.5Z"/><path d="M1074.9 860.3L1069.6 856.4L1071.6 850.2L1078.2 850.2L1080.2 856.4Z"/><path d="M1093.4 812.6L1088.1 808.7L1090.1 802.5L1096.7 802.5L1098.7 808.7Z"/><path d="M1111.9 678.9L1106.6 675.0L1108.6 668.8L1115.2 668.8L1117.2 675.0Z"/><path d="M1130.4 825.9L1125.1 822.0L1127.1 815.8L1133.7 815.8L1135.7 822.0Z"/><path d="M1148.9 837.0L1143.6 833.1L1145.6 826.9L1152.2 826.9L1154.3 833.1Z"/><path d="M1167.4 832.1L1162.1 828.2L1164.2 822.0L1170.7 822.0L1172.8 828.2Z"/><path d="M1186.0 838.6L1180.6 834.7L1182.7 828.5L1189.3 828.5L1191.3 834.7Z"/><path d="M1204.5 838.6L1199.2 834.7L1201.2 828.5L1207.8 828.5L1209.8 834.7Z"/><path d="M1223.0 832.6L1217.7 828.7L1219.7 822.5L1226.3 822.5L1228.3 828.7Z"/><path d="M1241.5 677.9L1236.2 674.0L1238.2 667.8L1244.8 667.8L1246.8 674.0Z"/><path d="M1260.0 672.9L1254.7 669.0L1256.7 662.8L1263.3 662.8L1265.3 669.0Z"/><path d="M1278.5 828.3L1273.2 824.4L1275.2 818.2L1281.8 818.2L1283.9 824.4Z"/><path d="M1297.0 827.8L1291.7 823.9L1293.8 817.7L1300.3 817.7L1302.4 823.9Z"/><path d="M1315.6 841.6L1310.2 837.7L1312.3 831.5L1318.9 831.5L1320.9 837.7Z"/><path d="M1334.1 842.2L1328.7 838.3L1330.8 832.1L1337.4 832.1L1339.4 838.3Z"/><path d="M1352.6 854.2L1347.3 850.3L1349.3 844.1L1355.9 844.1L1357.9 850.3Z"/><path d="M1371.1 790.9L1365.8 787.0L1367.8 780.8L1374.4 780.8L1376.4 787.0Z"/><path d="M1389.6 632.1L1384.3 628.2L1386.3 622.0L1392.9 622.0L1394.9 628.2Z"/><path d="M1408.1 637.5L1402.8 633.6L1404.8 627.4L1411.4 627.4L1413.5 633.6Z"/><path d="M1426.6 822.2L1421.3 818.3L1423.4 812.1L1429.9 812.1L1432.0 818.3Z"/><path d="M1445.2 839.4L1439.8 835.5L1441.9 829.3L1448.4 829.3L1450.5 835.5Z"/></g>
<path fill="none" stroke="#ffa500" stroke-width="1.05" stroke-linecap="round" d="M187.1 737.4H197.6M192.4 732.1V742.6M187.1 732.1L197.6 742.6M187.1 742.6L197.6 732.1M193.3 714.3H203.8M198.6 709.0V719.5M193.3 709.0L203.8 719.5M193.3 719.5L203.8 709.0M199.5 701.3H210.0M204.7 696.0V706.5M199.5 696.0L210.0 706.5M199.5 706.5L210.0 696.0M205.6 693.3H216.1M210.9 688.0V698.5M205.6 688.0L216.1 698.5M205.6 698.5L216.1 688.0M211.8 693.3H222.3M217.1 688.0V698.5M211.8 688.0L222.3 698.5M211.8 698.5L222.3 688.0M218.0 709.4H228.5M223.2 704.1V714.6M218.0 704.1L228.5 714.6M218.0 714.6L228.5 704.1M224.2 740.3H234.7M229.4 735.0V745.5M224.2 735.0L234.7 745.5M224.2 745.5L234.7 735.0M230.3 782.4H240.8M235.6 777.1V787.6M230.3 777.1L240.8 787.6M230.3 787.6L240.8 777.1M236.5 816.4H247.0M241.8 811.1V821.6M236.5 811.1L247.0 821.6M236.5 821.6L247.0 811.1M242.7 832.0H253.2M247.9 826.8V837.2M242.7 826.8L253.2 837.2M242.7 837.2L253.2 826.8M248.8 847.0H259.3M254.1 841.8V852.2M248.8 841.8L259.3 852.2M248.8 852.2L259.3 841.8M255.0 858.9H265.5M260.3 853.6V864.1M255.0 853.6L265.5 864.1M255.0 864.1L265.5 853.6M261.2 863.2H271.7M266.4 858.0V868.5M261.2 858.0L271.7 868.5M261.2 868.5L271.7 858.0M267.4 864.6H277.9M272.6 859.4V869.9M267.4 859.4L277.9 869.9M267.4 869.9L277.9 859.4M273.5 867.9H284.0M278.8 862.6V873.1M273.5 862.6L284.0 873.1M273.5 873.1L284.0 862.6M279.7 871.3H290.2M285.0 866.0V876.5M279.7 866.0L290.2 876.5M279.7 876.5L290.2 866.0M285.9 873.2H296.4M291.1 868.0V878.5M285.9 868.0L296.4 878.5M285.9 878.5L296.4 868.0M292.0 875.1H302.5M297.3 869.9V880.4M292.0 869.9L302.5 880.4M292.0 880.4L302.5 869.9M298.2 877.4H308.7M303.5 872.1V882.6M298.2 872.1L308.7 882.6M298.2 882.6L308.7 872.1M304.4 878.4H314.9M309.6 873.1V883.6M304.4 873.1L314.9 883.6M304.4 883.6L314.9 873.1M310.6 877.4H321.1M315.8 872.1V882.6M310.6 872.1L321.1 882.6M310.6 882.6L321.1 872.1M316.7 870.5H327.2M322.0 865.2V875.8M316.7 865.2L327.2 875.8M316.7 875.8L327.2 865.2M322.9 858.1H333.4M328.2 852.9V863.4M322.9 852.9L333.4 863.4M322.9 863.4L333.4 852.9M329.1 847.3H339.6M334.3 842.0V852.5M329.1 842.0L339.6 852.5M329.1 852.5L339.6 842.0M335.2 837.0H345.7M340.5 831.8V842.2M335.2 831.8L345.7 842.2M335.2 842.2L345.7 831.8M341.4 823.0H351.9M346.7 817.8V828.2M341.4 817.8L351.9 828.2M341.4 828.2L351.9 817.8M347.6 812.5H358.1M352.8 807.2V817.8M347.6 807.2L358.1 817.8M347.6 817.8L358.1 807.2M353.8 797.4H364.3M359.0 792.1V802.6M353.8 792.1L364.3 802.6M353.8 802.6L364.3 792.1M359.9 783.0H370.4M365.2 777.8V788.2M359.9 777.8L370.4 788.2M359.9 788.2L370.4 777.8M366.1 777.4H376.6M371.4 772.1V782.6M366.1 772.1L376.6 782.6M366.1 782.6L376.6 772.1M372.3 792.2H382.8M377.5 787.0V797.5M372.3 787.0L382.8 797.5M372.3 797.5L382.8 787.0M378.4 814.0H388.9M383.7 808.8V819.2M378.4 808.8L388.9 819.2M378.4 819.2L388.9 808.8M384.6 833.8H395.1M389.9 828.5V839.0M384.6 828.5L395.1 839.0M384.6 839.0L395.1 828.5M390.8 841.9H401.3M396.0 836.6V847.1M390.8 836.6L401.3 847.1M390.8 847.1L401.3 836.6M397.0 852.4H407.5M402.2 847.1V857.6M397.0 847.1L407.5 857.6M397.0 857.6L407.5 847.1M403.1 860.5H413.6M408.4 855.2V865.8M403.1 855.2L413.6 865.8M403.1 865.8L413.6 855.2M421.6 875.4H432.1M426.9 870.1V880.6M421.6 870.1L432.1 880.6M421.6 880.6L432.1 870.1M440.2 882.3H450.7M445.4 877.0V887.5M440.2 877.0L450.7 887.5M440.2 887.5L450.7 877.0M458.7 878.9H469.2M463.9 873.6V884.1M458.7 873.6L469.2 884.1M458.7 884.1L469.2 873.6M477.2 838.0H487.7M482.4 832.8V843.2M477.2 832.8L487.7 843.2M477.2 843.2L487.7 832.8M495.7 790.3H506.2M500.9 785.0V795.5M495.7 785.0L506.2 795.5M495.7 795.5L506.2 785.0M514.2 757.5H524.7M519.5 752.2V762.8M514.2 752.2L524.7 762.8M514.2 762.8L524.7 752.2M532.7 812.4H543.2M538.0 807.1V817.6M532.7 807.1L543.2 817.6M532.7 817.6L543.2 807.1M551.2 839.4H561.7M556.5 834.1V844.6M551.2 834.1L561.7 844.6M551.2 844.6L561.7 834.1M569.8 858.5H580.3M575.0 853.2V863.8M569.8 853.2L580.3 863.8M569.8 863.8L580.3 853.2M588.3 871.3H598.8M593.5 866.0V876.5M588.3 866.0L598.8 876.5M588.3 876.5L598.8 866.0M606.8 870.3H617.3M612.0 865.0V875.5M606.8 865.0L617.3 875.5M606.8 875.5L617.3 865.0M625.3 822.3H635.8M630.5 817.0V827.5M625.3 817.0L635.8 827.5M625.3 827.5L635.8 817.0M643.8 783.6H654.3M649.1 778.4V788.9M643.8 778.4L654.3 788.9M643.8 788.9L654.3 778.4M662.3 776.2H672.8M667.6 771.0V781.5M662.3 771.0L672.8 781.5M662.3 781.5L672.8 771.0M680.8 838.3H691.3M686.1 833.0V843.5M680.8 833.0L691.3 843.5M680.8 843.5L691.3 833.0M699.4 869.3H709.9M704.6 864.0V874.5M699.4 864.0L709.9 874.5M699.4 874.5L709.9 864.0M717.9 878.2H728.4M723.1 873.0V883.5M717.9 873.0L728.4 883.5M717.9 883.5L728.4 873.0M736.4 882.4H746.9M741.6 877.1V887.6M736.4 877.1L746.9 887.6M736.4 887.6L746.9 877.1M754.9 882.4H765.4M760.1 877.1V887.6M754.9 877.1L765.4 887.6M754.9 887.6L765.4 877.1M773.4 868.3H783.9M778.7 863.0V873.5M773.4 863.0L783.9 873.5M773.4 873.5L783.9 863.0M791.9 859.4H802.4M797.2 854.1V864.6M791.9 854.1L802.4 864.6M791.9 864.6L802.4 854.1M810.4 849.4H820.9M815.7 844.1V854.6M810.4 844.1L820.9 854.6M810.4 854.6L820.9 844.1M828.9 870.3H839.4M834.2 865.0V875.5M828.9 865.0L839.4 875.5M828.9 875.5L839.4 865.0M847.5 871.2H858.0M852.7 866.0V876.5M847.5 866.0L858.0 876.5M847.5 876.5L858.0 866.0M866.0 871.2H876.5M871.2 866.0V876.5M866.0 866.0L876.5 876.5M866.0 876.5L876.5 866.0M884.5 870.3H895.0M889.7 865.0V875.5M884.5 865.0L895.0 875.5M884.5 875.5L895.0 865.0M903.0 867.4H913.5M908.3 862.1V872.6M903.0 862.1L913.5 872.6M903.0 872.6L913.5 862.1M921.5 858.2H932.0M926.8 853.0V863.5M921.5 853.0L932.0 863.5M921.5 863.5L932.0 853.0M940.0 802.4H950.5M945.3 797.1V807.6M940.0 797.1L950.5 807.6M940.0 807.6L950.5 797.1M958.5 755.6H969.0M963.8 750.4V760.9M958.5 750.4L969.0 760.9M958.5 760.9L969.0 750.4M977.1 812.4H987.6M982.3 807.1V817.6M977.1 807.1L987.6 817.6M977.1 817.6L987.6 807.1M995.6 846.3H1006.1M1000.8 841.0V851.5M995.6 841.0L1006.1 851.5M995.6 851.5L1006.1 841.0M1014.1 859.2H1024.6M1019.3 854.0V864.5M1014.1 854.0L1024.6 864.5M1014.1 864.5L1024.6 854.0M1032.6 867.4H1043.1M1037.9 862.1V872.6M1032.6 862.1L1043.1 872.6M1032.6 872.6L1043.1 862.1M1051.1 868.5H1061.6M1056.4 863.2V873.8M1051.1 863.2L1061.6 873.8M1051.1 873.8L1061.6 863.2M1069.6 845.9H1080.1M1074.9 840.6V851.1M1069.6 840.6L1080.1 851.1M1069.6 851.1L1080.1 840.6M1088.1 806.9H1098.6M1093.4 801.6V812.1M1088.1 801.6L1098.6 812.1M1088.1 812.1L1098.6 801.6M1106.7 778.7H1117.2M1111.9 773.5V784.0M1106.7 773.5L1117.2 784.0M1106.7 784.0L1117.2 773.5M1125.2 835.5H1135.7M1130.4 830.2V840.8M1125.2 830.2L1135.7 840.8M1125.2 840.8L1135.7 830.2M1143.7 865.7H1154.2M1148.9 860.5V871.0M1143.7 860.5L1154.2 871.0M1143.7 871.0L1154.2 860.5M1162.2 871.3H1172.7M1167.4 866.0V876.5M1162.2 866.0L1172.7 876.5M1162.2 876.5L1172.7 866.0M1180.7 871.3H1191.2M1186.0 866.0V876.5M1180.7 866.0L1191.2 876.5M1180.7 876.5L1191.2 866.0M1199.2 865.2H1209.7M1204.5 860.0V870.5M1199.2 860.0L1209.7 870.5M1199.2 870.5L1209.7 860.0M1217.7 834.3H1228.2M1223.0 829.0V839.5M1217.7 829.0L1228.2 839.5M1217.7 839.5L1228.2 829.0M1236.3 792.2H1246.8M1241.5 787.0V797.5M1236.3 787.0L1246.8 797.5M1236.3 797.5L1246.8 787.0M1254.8 765.2H1265.3M1260.0 760.0V770.5M1254.8 760.0L1265.3 770.5M1254.8 770.5L1265.3 760.0M1273.3 815.3H1283.8M1278.5 810.0V820.5M1273.3 810.0L1283.8 820.5M1273.3 820.5L1283.8 810.0M1291.8 838.4H1302.3M1297.0 833.1V843.6M1291.8 833.1L1302.3 843.6M1291.8 843.6L1302.3 833.1M1310.3 843.2H1320.8M1315.6 838.0V848.5M1310.3 838.0L1320.8 848.5M1310.3 848.5L1320.8 838.0M1328.8 841.2H1339.3M1334.1 836.0V846.5M1328.8 836.0L1339.3 846.5M1328.8 846.5L1339.3 836.0M1347.3 836.0H1357.8M1352.6 830.8V841.2M1347.3 830.8L1357.8 841.2M1347.3 841.2L1357.8 830.8M1365.9 807.2H1376.4M1371.1 802.0V812.5M1365.9 802.0L1376.4 812.5M1365.9 812.5L1376.4 802.0M1402.9 749.6H1413.4M1408.1 744.4V754.9M1402.9 744.4L1413.4 754.9M1402.9 754.9L1413.4 744.4M1439.9 854.5H1450.4M1445.2 849.2V859.8M1439.9 849.2L1450.4 859.8M1439.9 859.8L1450.4 849.2"/>
<g stroke="#000" stroke-width="1.15" fill="none" stroke-linecap="round">
<rect x="124.5" y="98.5" width="1333.0" height="796.0"/>
<path d="M272.5 894.5V882.0M272.5 98.5V111.0M420.5 894.5V882.0M420.5 98.5V111.0M568.5 894.5V882.0M568.5 98.5V111.0M716.5 894.5V882.0M716.5 98.5V111.0M864.5 894.5V882.0M864.5 98.5V111.0M1013.5 894.5V882.0M1013.5 98.5V111.0M1161.5 894.5V882.0M1161.5 98.5V111.0M1309.5 894.5V882.0M1309.5 98.5V111.0M124.5 761.5H137.0M1457.5 761.5H1445.0M124.5 629.5H137.0M1457.5 629.5H1445.0M124.5 496.5H137.0M1457.5 496.5H1445.0M124.5 363.5H137.0M1457.5 363.5H1445.0M124.5 231.5H137.0M1457.5 231.5H1445.0"/>
</g>
<g font-size="24" fill="#000">
<text transform="translate(95.89 903.70) scale(1.1091 1.0)">0</text>
<text transform="translate(81.85 770.70) scale(1.0520 1.0)">20</text>
<text transform="translate(81.85 638.70) scale(1.0520 1.0)">40</text>
<text transform="translate(81.85 505.70) scale(1.0520 1.0)">60</text>
<text transform="translate(81.85 372.70) scale(1.0520 1.0)">80</text>
<text transform="translate(68.09 240.70) scale(1.0541 1.0)">100</text>
<text transform="translate(68.09 107.70) scale(1.0541 1.0)">120</text>
<text transform="translate(91.76 936.80) scale(1.0914 1.0)">03/04</text>
<text transform="translate(239.76 936.80) scale(1.0914 1.0)">03/05</text>
<text transform="translate(387.76 936.80) scale(1.0914 1.0)">03/06</text>
<text transform="translate(535.76 936.80) scale(1.0914 1.0)">03/07</text>
<text transform="translate(683.76 936.80) scale(1.0914 1.0)">03/08</text>
<text transform="translate(831.76 936.80) scale(1.0914 1.0)">03/09</text>
<text transform="translate(980.76 936.80) scale(1.0914 1.0)">03/10</text>
<text transform="translate(1129.85 936.80) scale(1.0914 1.0)">03/11</text>
<text transform="translate(1276.76 936.80) scale(1.0914 1.0)">03/12</text>
<text transform="translate(1424.76 936.80) scale(1.0914 1.0)">03/13</text>
<text transform="translate(1262.43 136.80) scale(0.9330 1.0)">ECMWF</text>
<text transform="translate(1283.78 169.50) scale(0.9106 1.0)">HRRR</text>
<text transform="translate(1230.01 202.20) scale(1.0469 1.0)">NAM</text>
<text transform="translate(1290.90 202.20) scale(1.1000 1.0)">3</text>
<text transform="translate(1310.79 202.20) scale(1.1571 1.0)">km</text>
<text transform="translate(1216.31 234.90) scale(1.0429 1.0)">NAM</text>
<text transform="translate(1277.25 234.90) scale(1.0739 1.0)">12</text>
<text transform="translate(1310.79 234.90) scale(1.1571 1.0)">km</text>
<text transform="translate(1226.75 267.60) scale(0.8532 1.0)">GFS</text>
<text transform="translate(1274.25 267.60) scale(1.0478 1.0)">0.125°</text>
<text transform="translate(1226.75 300.30) scale(0.8532 1.0)">GFS</text>
<text transform="translate(1274.25 300.30) scale(1.0478 1.0)">0.250°</text>
<text transform="translate(1290.49 333.00) scale(1.0531 1.0)">NBM</text>
<text transform="translate(327.05 58.60) scale(1.0492 0.965)" font-weight="bold">Southwest</text>
<text transform="translate(459.84 58.60) scale(1.0281 0.965)" font-weight="bold">Reno</text>
<text transform="translate(526.93 58.60) scale(1.0667 0.965)" font-weight="bold">-</text>
<text transform="translate(541.90 58.60) scale(1.0302 0.965)" font-weight="bold">Tier</text>
<text transform="translate(593.03 58.60) scale(1.0727 0.965)" font-weight="bold">2</text>
<text transform="translate(612.93 58.60) scale(1.0667 0.965)" font-weight="bold">-</text>
<text transform="translate(626.99 58.60) scale(1.0033 0.965)" font-weight="bold">Fosberg</text>
<text transform="translate(725.56 58.60) scale(1.0683 0.965)" font-weight="bold">Fire</text>
<text transform="translate(778.90 58.60) scale(1.0670 0.965)" font-weight="bold">Weather</text>
<text transform="translate(885.30 58.60) scale(1.1017 0.965)" font-weight="bold">Index</text>
<text transform="translate(959.92 58.60) scale(1.0833 0.965)" font-weight="bold">-</text>
<text transform="translate(973.80 58.60) scale(1.1034 0.965)" font-weight="bold">03/04/2026</text>
<text transform="translate(1111.53 58.60) scale(1.0361 0.965)" font-weight="bold">18z</text>
<text transform="translate(1156.30 58.60) scale(1.0505 0.965)" font-weight="bold">forecast</text>
<text transform="translate(762.52 985.90) scale(1.0878 1.0)" font-weight="bold">Date</text>
<text transform="translate(36.40 674.92) rotate(-90) scale(1.0121 1)" font-weight="bold">Fosberg</text>
<text transform="translate(36.40 573.97) rotate(-90) scale(0.9854 1)" font-weight="bold">Fire</text>
<text transform="translate(36.40 523.50) rotate(-90) scale(1.0649 1)" font-weight="bold">Weather</text>
<text transform="translate(36.40 417.30) rotate(-90) scale(1.1017 1)" font-weight="bold">Index</text>
<text transform="translate(36.40 342.40) rotate(-90) scale(1.0045 1)" font-weight="bold">(-)</text>
</g>
<g fill="#0000cd"><rect x="1390.1" y="123.3" width="8.8" height="8.8"/></g><g fill="#006400"><circle cx="1394.5" cy="160.5" r="5.5"/></g><g fill="#ff0000"><path d="M1394.5 187.2L1400.3 197.6H1388.7Z"/></g><g fill="#000"><path d="M1394.5 231.7L1400.2 221.5H1388.8Z"/></g><g fill="#bebebe"><path d="M1394.5 253.2L1400.1 258.8L1394.5 264.4L1388.9 258.8Z"/></g><g fill="#87ceeb"><path d="M1394.5 297.2L1389.2 293.3L1391.2 287.0L1397.8 287.0L1399.8 293.3Z"/></g><path fill="none" stroke="#ffa500" stroke-width="1.05" stroke-linecap="round" d="M1389.2 324.3H1399.8M1394.5 319.1V329.6M1389.2 319.1L1399.8 329.6M1389.2 329.6L1399.8 319.1"/>
</svg></body></html>
